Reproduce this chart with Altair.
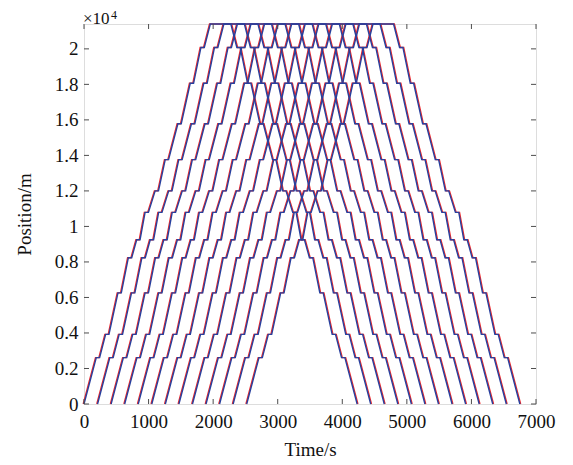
import altair as alt
import pandas as pd

# Station positions along the line (m)
stations_m = [0, 2610, 3920, 6260, 8240, 9250, 10790, 12000, 13760, 15780, 18060, 20080, 21400]
# Running time of each section, up direction (s)
run_s = [190, 93, 139, 109, 77, 78, 104, 104, 144, 139, 114, 93]
# Dwell time at each intermediate station (s)
dwell_s = [52, 52, 52, 52, 52, 52, 52, 52, 52, 52, 52]
# Departure of each train from the first station (s)
up_start_s = [0, 210, 420, 630, 840, 1050, 1260, 1470, 1680, 1890, 2100, 2310, 2520]
# Arrival of each train back at the first station (s)
down_end_s = [4230, 4440, 4650, 4860, 5070, 5280, 5490, 5700, 5910, 6120, 6330, 6540, 6750]
# Small lead/lag of the planned (red) path vs actual (blue) path (s)
plan_shift_s = 12

x_ticks = [0, 1000, 2000, 3000, 4000, 5000, 6000, 7000]
y_ticks = [0, 2000, 4000, 6000, 8000, 10000, 12000, 14000, 16000, 18000, 20000]

X_MAX, Y_MAX = 7000, 21400
W, H = 452, 380


def up_profile():
    pts = [(0, stations_m[0])]
    t = 0
    for i, r in enumerate(run_s):
        t += r
        pts.append((t, stations_m[i + 1]))
        if i < len(dwell_s):
            t += dwell_s[i]
            pts.append((t, stations_m[i + 1]))
    return pts


def down_profile():
    rs = run_s[::-1]
    ds = dwell_s[::-1]
    st = stations_m[::-1]
    pts = [(0, st[0])]
    t = 0
    for i, r in enumerate(rs):
        t += r
        pts.append((t, st[i + 1]))
        if i < len(ds):
            t += ds[i]
            pts.append((t, st[i + 1]))
    return pts


UP = up_profile()
DN = down_profile()
TRIP = UP[-1][0]

rows = []
for k, (s0, e1) in enumerate(zip(up_start_s, down_end_s)):
    d0 = e1 - TRIP
    for series, sh_up, sh_dn in (("plan", -plan_shift_s, plan_shift_s), ("actual", 0, 0)):
        seq = 0
        for t, p in UP:
            rows.append({"train": k, "series": series, "seq": seq, "t": s0 + t + sh_up, "pos": p})
            seq += 1
        for t, p in DN:
            rows.append({"train": k, "series": series, "seq": seq, "t": d0 + t + sh_dn, "pos": p})
            seq += 1

df = pd.DataFrame(rows)

FONT = "Liberation Serif"
FS = 19
xs = alt.Scale(domain=[0, X_MAX], nice=False, zero=False)
ys = alt.Scale(domain=[0, Y_MAX], nice=False, zero=False)

x_axis = alt.Axis(values=x_ticks, title="Time/s", domain=False, ticks=False, grid=False,
                  labelPadding=8, titlePadding=9, labelFontSize=FS, titleFontSize=FS,
                  labelFont=FONT, titleFont=FONT, labelColor="#111", titleColor="#111",
                  titleFontWeight="normal", format="d", labelFlush=False, labelOverlap=False)
y_axis = alt.Axis(values=y_ticks, title="Position/m", domain=False, ticks=False, grid=False,
                  labelPadding=6, titlePadding=20, labelFontSize=FS, titleFontSize=FS,
                  labelFont=FONT, titleFont=FONT, labelColor="#111", titleColor="#111",
                  titleFontWeight="normal", labelFlush=False, labelOverlap=False,
                  labelExpr="format(datum.value / 10000, '.1~f')")

plan = alt.Chart(df[df.series == "plan"]).mark_line(color="#f02828", strokeWidth=1.4).encode(
    x=alt.X("t:Q", scale=xs, axis=x_axis, title="Time/s"),
    y=alt.Y("pos:Q", scale=ys, axis=y_axis, title="Position/m"),
    detail="train:N",
    order="seq:Q",
)
actual = alt.Chart(df[df.series == "actual"]).mark_line(color="#28409e", strokeWidth=1.4).encode(
    x=alt.X("t:Q", scale=xs, axis=x_axis, title="Time/s"),
    y=alt.Y("pos:Q", scale=ys, axis=y_axis, title="Position/m"),
    detail="train:N",
    order="seq:Q",
)

xt = pd.DataFrame({"v": x_ticks})
yt = pd.DataFrame({"v": y_ticks})
TICK = 5
tick_col = "#4d4d4d"
bt = alt.Chart(xt).mark_rule(color=tick_col).encode(
    x=alt.X("v:Q", scale=xs, axis=x_axis, title="Time/s"), y=alt.value(H), y2=alt.value(H - TICK))
tt = alt.Chart(xt).mark_rule(color=tick_col).encode(
    x=alt.X("v:Q", scale=xs, axis=x_axis, title="Time/s"), y=alt.value(0), y2=alt.value(TICK))
lt = alt.Chart(yt).mark_rule(color=tick_col).encode(
    y=alt.Y("v:Q", scale=ys, axis=y_axis, title="Position/m"), x=alt.value(0), x2=alt.value(TICK))
rt = alt.Chart(yt).mark_rule(color=tick_col).encode(
    y=alt.Y("v:Q", scale=ys, axis=y_axis, title="Position/m"), x=alt.value(W), x2=alt.value(W - TICK))

lab = pd.DataFrame({"a": ["×10"], "b": ["4"]})
mult = alt.Chart(lab).mark_text(font=FONT, fontSize=17, align="left", baseline="alphabetic", color="#111").encode(
    x=alt.value(-1), y=alt.value(-0.5), text="a:N")
expo = alt.Chart(lab).mark_text(font=FONT, fontSize=12, align="left", baseline="alphabetic", color="#111").encode(
    x=alt.value(27), y=alt.value(-5), text="b:N")

chart = alt.layer(plan, actual, bt, tt, lt, rt, mult, expo).properties(
    width=W, height=H,
    autosize=alt.AutoSizeParams(type="none"),
    padding={"left": 76, "top": 16, "right": 29, "bottom": 57},
).configure_view(stroke="#4d4d4d", strokeWidth=1).configure_axis(
    labelOverlap=False, labelFlush=False
).configure(background="white")

chart.save("out.html", embed_options={"renderer": "svg", "actions": False})
